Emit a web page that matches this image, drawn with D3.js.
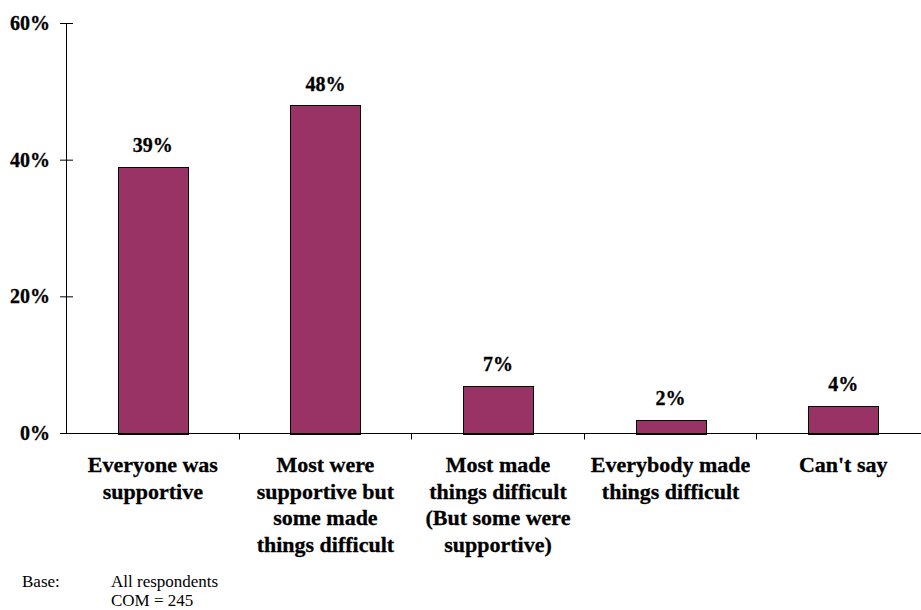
<!DOCTYPE html>
<html><head><meta charset="utf-8">
<script src="https://cdn.jsdelivr.net/npm/d3@7/dist/d3.min.js"></script>
<style>body{margin:0;background:#fff}svg{display:block}</style>
</head><body>
<script>
const categories = [
  "Everyone was\nsupportive",
  "Most were\nsupportive but\nsome made\nthings difficult",
  "Most made\nthings difficult\n(But some were\nsupportive)",
  "Everybody made\nthings difficult",
  "Can't say"
];
const values = [39, 48, 7, 2, 4];
const yTicks = [0, 20, 40, 60];

const W = 921, H = 610;
const svg = d3.select("body").append("svg").attr("width", W).attr("height", H);
const serif = "'Liberation Serif','Times New Roman',serif";

const x = d3.scaleBand().domain(categories).range([66.5, 929.5]).paddingInner(0.595).paddingOuter(0.2975);
const y = d3.scaleLinear().domain([0, 60]).range([433.5, 23.5]);

// bars
svg.selectAll("rect.bar").data(values).join("rect")
  .attr("class", "bar")
  .attr("x", (d, i) => Math.round(x(categories[i])) + 0.5)
  .attr("width", Math.round(x.bandwidth()))
  .attr("y", d => Math.round(y(d)) + 0.5)
  .attr("height", d => Math.round(y(0)) - Math.round(y(d)))
  .attr("fill", "#993366").attr("stroke", "#000").attr("stroke-width", 1);

// value labels
svg.selectAll("text.val").data(values).join("text")
  .attr("class", "val")
  .attr("x", (d, i) => x(categories[i]) + x.bandwidth() / 2)
  .attr("y", d => y(d) - 15)
  .attr("text-anchor", "middle")
  .attr("font-family", serif).attr("font-weight", "bold").attr("font-size", 20)
  .attr("stroke", "#000").attr("stroke-width", 0.3)
  .text(d => d + "%");

// y axis
const axisG = svg.append("g");
axisG.append("line").attr("x1", 66.5).attr("x2", 66.5).attr("y1", y(60)).attr("y2", y(0)).attr("stroke", "#000");
yTicks.forEach(t => {
  axisG.append("line").attr("x1", 60).attr("x2", 73).attr("y1", y(t)).attr("y2", y(t)).attr("stroke", "#000");
  axisG.append("text").attr("x", 50).attr("y", y(t) + 6.5).attr("text-anchor", "end")
    .attr("font-family", serif).attr("font-weight", "bold").attr("font-size", 20)
    .attr("stroke", "#000").attr("stroke-width", 0.3)
    .text(t + "%");
});

// x axis
axisG.append("line").attr("x1", 66.5).attr("x2", W).attr("y1", y(0)).attr("y2", y(0)).attr("stroke", "#000");
const step = x.step();
categories.forEach((c, i) => {
  const bx = Math.round(66 + step * (i + 1)) + 0.5;
  if (bx < W) axisG.append("line").attr("x1", bx).attr("x2", bx).attr("y1", y(0)).attr("y2", y(0) + 6).attr("stroke", "#000");
});

// category labels
categories.forEach(c => {
  const t = svg.append("text")
    .attr("text-anchor", "middle")
    .attr("font-family", serif).attr("font-weight", "bold").attr("font-size", 22)
    .attr("stroke", "#000").attr("stroke-width", 0.3);
  c.split("\n").forEach((line, j) => {
    t.append("tspan").attr("x", x(c) + x.bandwidth() / 2).attr("y", 472 + j * 26.5).text(line);
  });
});

// footer
const f = svg.append("g").attr("font-family", serif).attr("font-size", 17);
f.append("text").attr("x", 22).attr("y", 587).text("Base:");
f.append("text").attr("x", 111).attr("y", 587).text("All respondents");
f.append("text").attr("x", 111).attr("y", 606).text("COM = 245");
</script>
</body></html>
